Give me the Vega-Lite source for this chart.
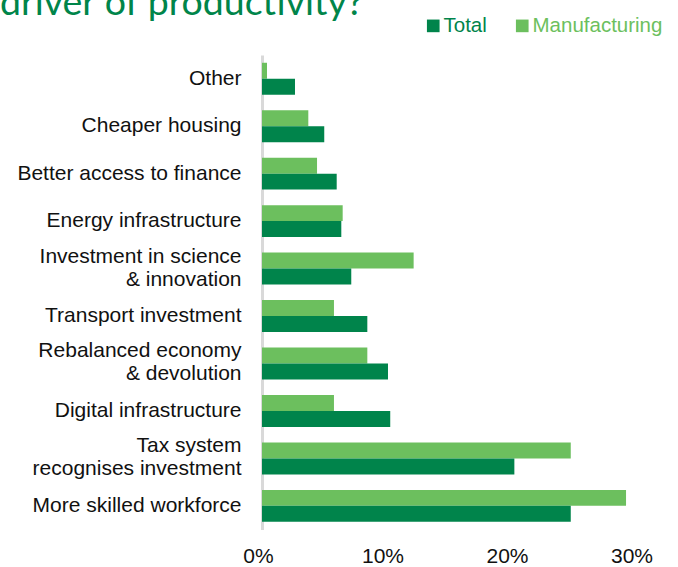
{
  "$schema": "https://vega.github.io/schema/vega-lite/v6.json",
  "width": 373.5,
  "height": 474.6,
  "autosize": {"type": "none"},
  "padding": {"left": 262, "top": 55, "right": 42.5, "bottom": 37.4},
  "background": "white",
  "title": {
    "text": "driver of productivity?",
    "anchor": "start",
    "frame": "group",
    "dx": -262,
    "dy": 37,
    "offset": 0,
    "baseline": "alphabetic",
    "font": "Lato",
    "fontSize": 37.5,
    "fontWeight": 400,
    "color": "#00854A"
  },
  "data": {
    "values": [
      {"category": "Other", "series": "Manufacturing", "value": 0.004},
      {"category": "Other", "series": "Total", "value": 0.0265},
      {"category": "Cheaper housing", "series": "Manufacturing", "value": 0.0372},
      {"category": "Cheaper housing", "series": "Total", "value": 0.050},
      {"category": "Better access to finance", "series": "Manufacturing", "value": 0.0442},
      {"category": "Better access to finance", "series": "Total", "value": 0.060},
      {"category": "Energy infrastructure", "series": "Manufacturing", "value": 0.0648},
      {"category": "Energy infrastructure", "series": "Total", "value": 0.0637},
      {"category": "Investment in science|& innovation", "series": "Manufacturing", "value": 0.1218},
      {"category": "Investment in science|& innovation", "series": "Total", "value": 0.0717},
      {"category": "Transport investment", "series": "Manufacturing", "value": 0.0578},
      {"category": "Transport investment", "series": "Total", "value": 0.0846},
      {"category": "Rebalanced economy|& devolution", "series": "Manufacturing", "value": 0.0846},
      {"category": "Rebalanced economy|& devolution", "series": "Total", "value": 0.1012},
      {"category": "Digital infrastructure", "series": "Manufacturing", "value": 0.0578},
      {"category": "Digital infrastructure", "series": "Total", "value": 0.103},
      {"category": "Tax system|recognises investment", "series": "Manufacturing", "value": 0.248},
      {"category": "Tax system|recognises investment", "series": "Total", "value": 0.2027},
      {"category": "More skilled workforce", "series": "Manufacturing", "value": 0.2924},
      {"category": "More skilled workforce", "series": "Total", "value": 0.248}
    ]
  },
  "mark": {"type": "bar"},
  "encoding": {
    "y": {
      "field": "category",
      "type": "nominal",
      "sort": ["Other", "Cheaper housing", "Better access to finance", "Energy infrastructure", "Investment in science|& innovation", "Transport investment", "Rebalanced economy|& devolution", "Digital infrastructure", "Tax system|recognises investment", "More skilled workforce"],
      "scale": {"paddingInner": 0.327, "paddingOuter": 0.1635},
      "axis": {
        "title": null,
        "ticks": false,
        "grid": false,
        "domain": true,
        "domainColor": "#D9D9D9",
        "domainWidth": 3,
        "labelPadding": 21,
        "labelFont": "Liberation Sans",
        "labelFontSize": 21,
        "labelColor": "#111111",
        "labelLineHeight": 23,
        "labelLimit": 400,
        "labelExpr": "split(datum.label, '|')",
        "labelOffset": {"expr": "indexof(datum.value, '|') >= 0 ? -12 : 0"}
      }
    },
    "yOffset": {
      "field": "series",
      "type": "nominal",
      "sort": ["Manufacturing", "Total"],
      "scale": {"paddingInner": 0, "paddingOuter": 0}
    },
    "x": {
      "field": "value",
      "type": "quantitative",
      "scale": {"domain": [0, 0.3], "nice": false},
      "axis": {
        "title": null,
        "format": ".0%",
        "values": [0, 0.1, 0.2, 0.3],
        "grid": false,
        "domain": false,
        "ticks": false,
        "labelPadding": 16,
        "labelOffset": -4,
        "labelFont": "Liberation Sans",
        "labelFontSize": 21,
        "labelColor": "#111111",
        "labelFlush": false
      }
    },
    "color": {
      "field": "series",
      "type": "nominal",
      "scale": {"domain": ["Total", "Manufacturing"], "range": ["#00844B", "#6CBF5E"]},
      "legend": {
        "title": null,
        "orient": "none",
        "direction": "horizontal",
        "legendX": 161,
        "legendY": -39.5,
        "symbolType": "square",
        "symbolSize": 160,
        "symbolStrokeWidth": 0,
        "labelFont": "Liberation Sans",
        "labelFontSize": 20.5,
        "labelOffset": 0,
        "columnPadding": 25,
        "labelLimit": 300,
        "encode": {
          "labels": {"update": {"fill": {"scale": "color", "field": "value"}}}
        }
      }
    }
  },
  "config": {
    "view": {"stroke": null}
  }
}
